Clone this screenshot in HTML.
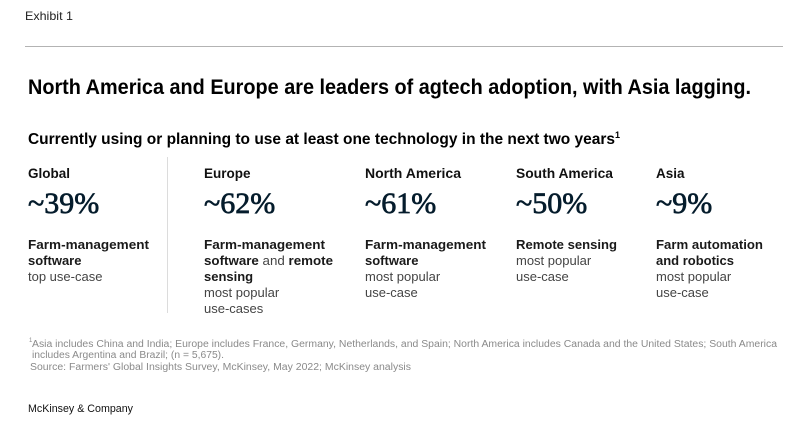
<!DOCTYPE html>
<html>
<head>
<meta charset="utf-8">
<style>
  html, body { margin:0; padding:0; background:#fff; }
  body { width:809px; height:426px; overflow:hidden; }
  svg { display:block; }
  .sans { font-family:"Liberation Sans", sans-serif; }
  .serif { font-family:"Liberation Serif", serif; }
</style>
</head>
<body>
<svg width="809" height="426" viewBox="0 0 809 426" xmlns="http://www.w3.org/2000/svg">
  <rect width="809" height="426" fill="#fff"/>
  <text class="sans" x="25" y="20" font-size="12" fill="#222" textLength="48" lengthAdjust="spacingAndGlyphs">Exhibit 1</text>
  <line x1="25" y1="46.5" x2="783" y2="46.5" stroke="#b3b3b3" stroke-width="1"/>

  <text class="sans" x="28" y="94" font-size="21" font-weight="bold" fill="#000" textLength="723" lengthAdjust="spacingAndGlyphs">North America and Europe are leaders of agtech adoption, with Asia lagging.</text>

  <text class="sans" x="28" y="144" font-size="15.5" font-weight="bold" fill="#000" textLength="587" lengthAdjust="spacingAndGlyphs">Currently using or planning to use at least one technology in the next two years</text>
  <text class="sans" x="615" y="138" font-size="9" font-weight="bold" fill="#000">1</text>

  <!-- divider -->
  <line x1="167.5" y1="157" x2="167.5" y2="313" stroke="#dcdcdc" stroke-width="1"/>

  <!-- headers -->
  <g class="sans" font-size="13.5" font-weight="bold" fill="#111">
    <text x="28" y="178">Global</text>
    <text x="204" y="178">Europe</text>
    <text x="365" y="178" textLength="96" lengthAdjust="spacingAndGlyphs">North America</text>
    <text x="516" y="178" textLength="97" lengthAdjust="spacingAndGlyphs">South America</text>
    <text x="656" y="178">Asia</text>
  </g>

  <!-- percentages -->
  <g class="serif" font-size="30" fill="#051c2c" stroke="#051c2c" stroke-width="0.7">
    <text x="28" y="213">~39%</text>
    <text x="204" y="213">~62%</text>
    <text x="365" y="213">~61%</text>
    <text x="516" y="213">~50%</text>
    <text x="656" y="213">~9%</text>
  </g>

  <!-- descriptions -->
  <g class="sans" font-size="13">
    <!-- Global -->
    <text x="28" y="249" font-weight="bold" fill="#1a1a1a" textLength="121" lengthAdjust="spacingAndGlyphs">Farm-management</text>
    <text x="28" y="265" font-weight="bold" fill="#1a1a1a">software</text>
    <text x="28" y="281" fill="#444">top use-case</text>

    <!-- Europe -->
    <text x="204" y="249" font-weight="bold" fill="#1a1a1a" textLength="121" lengthAdjust="spacingAndGlyphs">Farm-management</text>
    <text x="204" y="265" fill="#1a1a1a" textLength="129" lengthAdjust="spacingAndGlyphs"><tspan font-weight="bold">software</tspan><tspan fill="#444"> and </tspan><tspan font-weight="bold">remote</tspan></text>
    <text x="204" y="281" font-weight="bold" fill="#1a1a1a">sensing</text>
    <text x="204" y="297" fill="#444">most popular</text>
    <text x="204" y="313" fill="#444">use-cases</text>

    <!-- North America -->
    <text x="365" y="249" font-weight="bold" fill="#1a1a1a" textLength="121" lengthAdjust="spacingAndGlyphs">Farm-management</text>
    <text x="365" y="265" font-weight="bold" fill="#1a1a1a">software</text>
    <text x="365" y="281" fill="#444">most popular</text>
    <text x="365" y="297" fill="#444">use-case</text>

    <!-- South America -->
    <text x="516" y="249" font-weight="bold" fill="#1a1a1a" textLength="101" lengthAdjust="spacingAndGlyphs">Remote sensing</text>
    <text x="516" y="265" fill="#444">most popular</text>
    <text x="516" y="281" fill="#444">use-case</text>

    <!-- Asia -->
    <text x="656" y="249" font-weight="bold" fill="#1a1a1a" textLength="107" lengthAdjust="spacingAndGlyphs">Farm automation</text>
    <text x="656" y="265" font-weight="bold" fill="#1a1a1a">and robotics</text>
    <text x="656" y="281" fill="#444">most popular</text>
    <text x="656" y="297" fill="#444">use-case</text>
  </g>

  <!-- footnotes -->
  <g class="sans" font-size="10" fill="#8a8a8a">
    <text x="29" y="342" font-size="6">1</text>
    <text x="32" y="347" textLength="745" lengthAdjust="spacingAndGlyphs">Asia includes China and India; Europe includes France, Germany, Netherlands, and Spain; North America includes Canada and the United States; South America</text>
    <text x="32" y="358" textLength="192" lengthAdjust="spacingAndGlyphs">includes Argentina and Brazil; (n = 5,675).</text>
    <text x="30" y="370" textLength="381" lengthAdjust="spacingAndGlyphs">Source: Farmers' Global Insights Survey, McKinsey, May 2022; McKinsey analysis</text>
  </g>

  <text class="sans" x="28" y="412" font-size="11" fill="#111" textLength="105" lengthAdjust="spacingAndGlyphs">McKinsey &amp; Company</text>
</svg>
</body>
</html>
